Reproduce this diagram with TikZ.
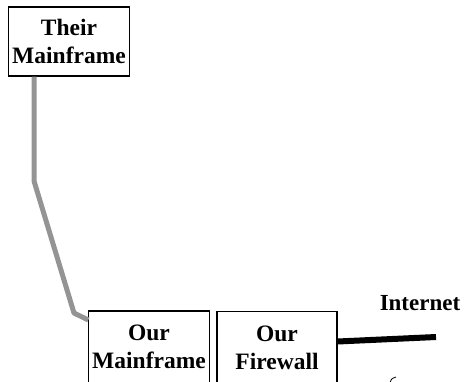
\documentclass[tikz,border=0pt]{standalone}
\usepackage{fontspec}
\setmainfont{Liberation Serif}
\usepackage{tikz}
\usetikzlibrary{calc,positioning}
\tikzset{%
	box/.style  = {draw, rectangle, line width=1.2pt, minimum width=120pt, text centered, align=center, text depth=-4pt, font=\fontsize{23.5}{28}\selectfont\bfseries},
	lease/.style = {line width=5pt, color=black!42, line join=round},
	net/.style  = {line width=6pt},
}

\begin{document}
\begin{tikzpicture}[x=1pt,y=-1pt]
	\path[use as bounding box, clip] (0,0) rectangle (469,381);
	\node[box, minimum height=69pt] (theirmf) at (69,41.5) {Their\\Mainframe};
	\node[box, minimum height=72pt] (ourmf) at (149,347) {Our\\Mainframe};
	\node[box, minimum height=72pt] (ourfw) at (277,347.5) {Our\\Firewall};
	\node[anchor=base, font=\fontsize{23}{27.6}\selectfont\bfseries] (internet) at (420,310) {Internet};
	
	\coordinate (bend1) at (34,181);
	\coordinate (bend2) at (74,313);
	\coordinate (netend) at (436,337);
	
	\draw[lease] ([xshift=-35pt]theirmf.south) -- (bend1) -- (bend2) -- ([yshift=27pt]ourmf.west);
	\draw[net] ([yshift=6pt]ourfw.east) -- (netend);
	
	\draw[line width=0.8pt] (390,383) .. controls (391,379) and (393,377) .. (396,377);
\end{tikzpicture}
\end{document}
